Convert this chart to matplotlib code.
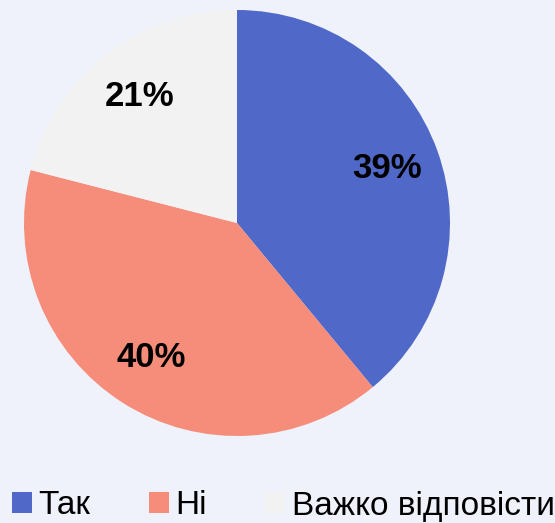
import matplotlib.pyplot as plt
from matplotlib.patches import Patch

labels = ["Так", "Ні", "Важко відповісти"]
shares = [39, 40, 21]
colors = ["#5068C8", "#F68C7A", "#F2F2F2"]

bg = "#EFF2FA"
font = ["Liberation Sans Narrow", "Liberation Sans", "DejaVu Sans"]

fig = plt.figure(figsize=(5.55, 5.23), dpi=100, facecolor=bg)
ax = fig.add_axes([24 / 555, 87 / 523, 426 / 555, 426 / 523])
ax.set_facecolor(bg)

wedges, texts, autotexts = ax.pie(
    shares, colors=colors, startangle=90, counterclock=False,
    autopct="%d%%", pctdistance=0.75,
    wedgeprops=dict(linewidth=0),
    textprops=dict(family=font, fontsize=25, fontweight="bold", color="black"),
)
ax.set_aspect("equal")
ax.set_xlim(-1, 1)
ax.set_ylim(-1, 1)

handles = [Patch(facecolor=c, edgecolor="none") for c in colors]
fig.legend(handles, labels, loc="center left", bbox_to_anchor=(12 / 555, 17 / 523),
           ncol=3, frameon=False, borderpad=0, borderaxespad=0,
           handlelength=0.6, handleheight=0.6,
           handletextpad=0.2, columnspacing=1.75,
           prop=dict(family=font, size=24))

fig.savefig("out.png", dpi=100, facecolor=bg)
